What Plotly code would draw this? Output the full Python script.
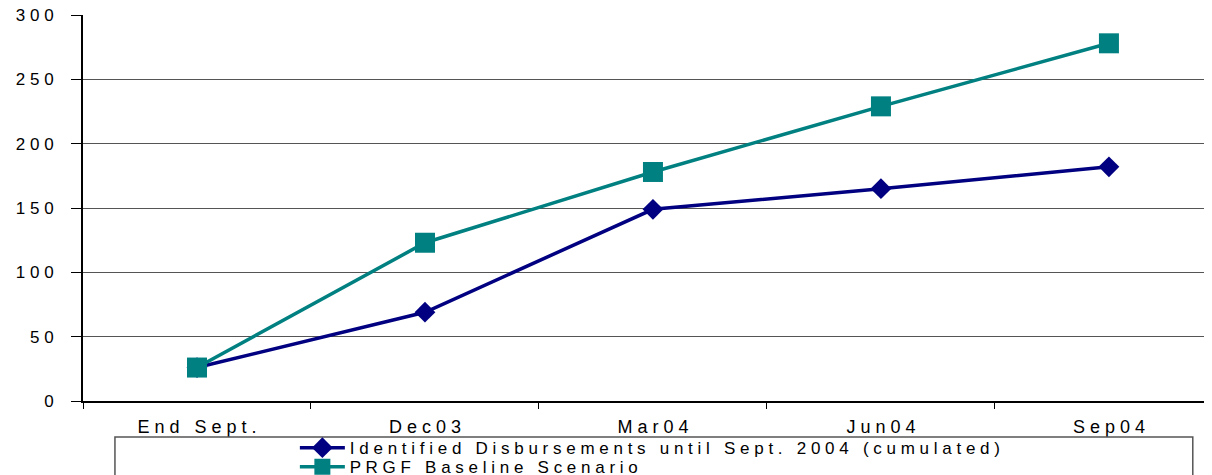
import plotly.graph_objects as go


# ----------------------------------------
# Data
# ----------------------------------------

periods = ["End Sept.", "Dec03", "Mar04", "Jun04", "Sep04"]

identified = [26, 69, 149, 165, 182]

baseline = [26, 123, 178, 229, 278]

y_ticks = [0, 50, 100, 150, 200, 250, 300]


def spaced(text):
    # the original chart has wide letter spacing
    return " ".join(text)


# ----------------------------------------
# Figure
# ----------------------------------------

fig = go.Figure()

fig.add_trace(
    go.Scatter(
        x=periods,
        y=identified,
        mode="lines+markers",
        name=spaced("Identified Disbursements until Sept. 2004 (cumulated)"),
        legend="legend",
        line=dict(color="#000080", width=3.5),
        marker=dict(symbol="diamond", size=16, color="#000080")
    )
)

fig.add_trace(
    go.Scatter(
        x=periods,
        y=baseline,
        mode="lines+markers",
        name=spaced("PRGF Baseline Scenario"),
        legend="legend2",
        line=dict(color="#008080", width=3.5),
        marker=dict(symbol="square", size=20, color="#008080")
    )
)

legend_style = dict(
    x=0.189,
    xanchor="left",
    yanchor="top",
    orientation="v",
    itemwidth=45,
    font=dict(size=17),
    bgcolor="rgba(0,0,0,0)"
)

# page body adds 8px around the figure
fig.update_layout(

    width=1196,
    height=467,

    paper_bgcolor="white",
    plot_bgcolor="white",

    font=dict(
        family="Liberation Sans, Arial",
        size=17,
        color="black"
    ),

    margin=dict(
        l=75,
        r=0,
        t=7,
        b=74,
        autoexpand=False
    ),

    showlegend=True,

    # one legend per row so the rows sit close together
    legend=dict(legend_style, y=-0.0754),
    legend2=dict(legend_style, y=-0.1246)
)

fig.update_xaxes(
    type="category",
    range=[-0.5, 4.417],
    tickmode="array",
    tickvals=periods,
    ticktext=[spaced(p) for p in periods],
    tickson="boundaries",
    ticks="outside",
    ticklen=6,
    tickcolor="black",
    tickangle=0,
    ticklabelstandoff=9,
    ticklabeloverflow="allow",
    showline=True,
    linecolor="black",
    linewidth=1.5,
    showgrid=False,
    zeroline=False,
    automargin=False,
    tickfont=dict(size=18)
)

fig.update_yaxes(
    range=[0, 300],
    tickmode="array",
    tickvals=y_ticks,
    ticktext=[spaced(str(v)) for v in y_ticks],
    ticks="outside",
    ticklen=10,
    tickcolor="black",
    ticklabelstandoff=14,
    ticklabeloverflow="allow",
    showline=True,
    linecolor="black",
    linewidth=2,
    showgrid=True,
    gridcolor="#555555",
    gridwidth=1,
    zeroline=False,
    automargin=False,
    tickfont=dict(size=17)
)

# legend frame, wider than the legend items
fig.add_shape(
    type="rect",
    xref="paper",
    yref="paper",
    x0=0.0285,
    x1=0.990,
    y0=-0.0933,
    y1=-0.3,
    line=dict(color="#555555", width=1.5),
    fillcolor="rgba(0,0,0,0)"
)

fig.write_html("out.html")
